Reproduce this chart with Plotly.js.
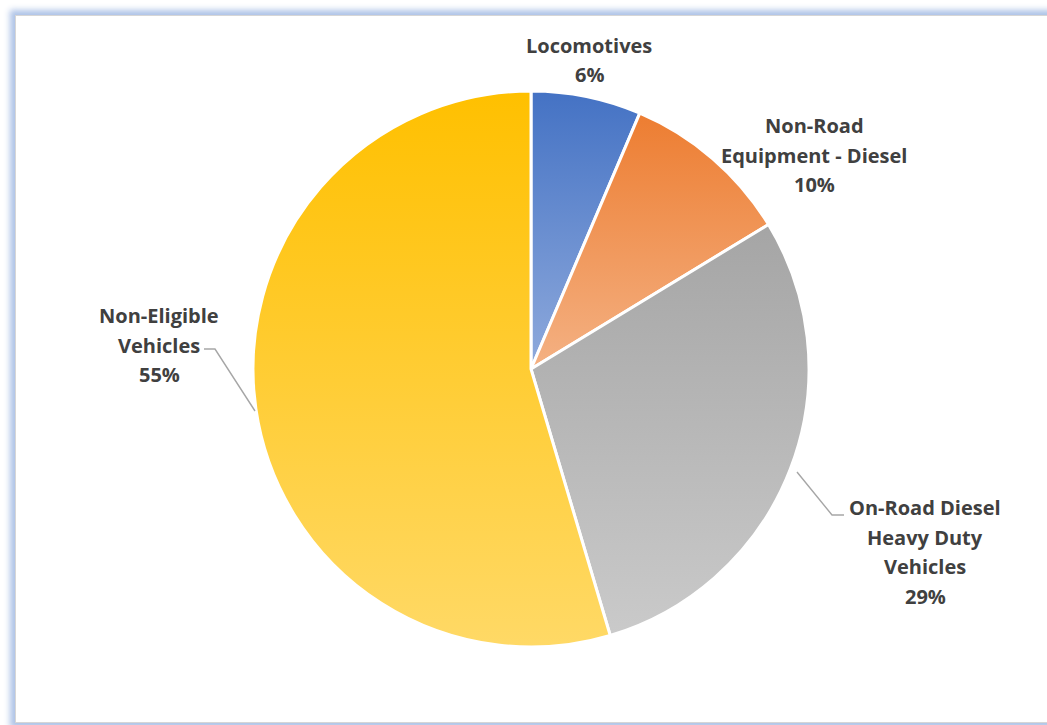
<!DOCTYPE html>
<html>
<head>
<meta charset="utf-8">
<script src="https://cdn.plot.ly/plotly-3.0.1.min.js"></script>
<style>
  html, body { margin: 0; padding: 0; background: #ffffff; overflow: hidden; }
  #wrap { position: relative; width: 1047px; height: 725px; overflow: hidden; background: #ffffff; }
  #frame { position: absolute; left: 15px; top: 15px; width: 1060px; height: 706px;
           border: 1px solid #d6d6d6; background: #ffffff;
           box-shadow: 0 0 6px 5px rgba(170,192,230,0.95); }
  #chart { position: absolute; left: 0; top: 0; width: 1047px; height: 725px; }
</style>
</head>
<body>
<div id="wrap">
  <div id="frame"></div>
  <div id="chart"></div>
</div>
<script>
// ---- data ----
const categories = ['Locomotives', 'Non-Road Equipment - Diesel', 'On-Road Diesel Heavy Duty Vehicles', 'Non-Eligible Vehicles'];
const shares = [6.4, 9.9, 29.1, 54.6];
const labelLines = [
  ['Locomotives'],
  ['Non-Road', 'Equipment - Diesel'],
  ['On-Road Diesel', 'Heavy Duty', 'Vehicles'],
  ['Non-Eligible', 'Vehicles']
];
const colorsTop = ['#4472C4', '#ED7D31', '#A5A5A5', '#FFC000'];
const colorsBottom = ['#8FAADC', '#F4B183', '#CACACA', '#FFD966'];

// ---- layout helpers ----
const W = 1047, H = 725;
const labelCenters = [[589, 60], [814, 155], [925, 552], [159, 345]]; // px
const lineGap = 29.5;
const total = shares.reduce((a, b) => a + b, 0);

const annotations = [];
labelLines.forEach((lines, k) => {
  const all = lines.concat([Math.round(shares[k] / total * 100) + '%']);
  const n = all.length;
  all.forEach((t, i) => {
    annotations.push({
      xref: 'paper', yref: 'paper',
      x: labelCenters[k][0] / W, y: 1 - labelCenters[k][1] / H,
      xanchor: 'center', yanchor: 'middle',
      yshift: ((n - 1) / 2 - i) * lineGap,
      text: '<b>' + t + '</b>', showarrow: false,
      font: { family: '"Open Sans", Lato, sans-serif', size: 20, color: '#404040' }
    });
  });
});

const px = (x) => x / W, py = (y) => 1 - y / H;
const shapes = [
  { type: 'path', xref: 'paper', yref: 'paper',
    path: `M ${px(204)} ${py(349)} L ${px(215)} ${py(349)} L ${px(255)} ${py(411)}`,
    line: { color: '#a6a6a6', width: 1.4 } },
  { type: 'path', xref: 'paper', yref: 'paper',
    path: `M ${px(797)} ${py(472)} L ${px(832)} ${py(515)} L ${px(844)} ${py(515)}`,
    line: { color: '#a6a6a6', width: 1.4 } }
];

const cx = 531, cy = 369, R = 278;
const trace = {
  type: 'pie',
  labels: categories,
  values: shares,
  sort: false,
  direction: 'clockwise',
  rotation: 0,
  textinfo: 'none',
  hoverinfo: 'label+percent',
  marker: { colors: colorsTop, line: { color: '#ffffff', width: 3 } },
  domain: { x: [(cx - R) / W, (cx + R) / W], y: [1 - (cy + R) / H, 1 - (cy - R) / H] },
  showlegend: false
};

const layout = {
  width: W, height: H,
  margin: { l: 0, r: 0, t: 0, b: 0 },
  paper_bgcolor: 'rgba(0,0,0,0)',
  plot_bgcolor: 'rgba(0,0,0,0)',
  showlegend: false,
  annotations: annotations,
  shapes: shapes
};

Plotly.newPlot('chart', [trace], layout, { displayModeBar: false, staticPlot: true }).then(gd => {
  const svg = gd.querySelector('svg.main-svg');
  const NS = 'http://www.w3.org/2000/svg';
  let defs = svg.querySelector('defs');
  if (!defs) { defs = document.createElementNS(NS, 'defs'); svg.insertBefore(defs, svg.firstChild); }
  colorsTop.forEach((c, i) => {
    const g = document.createElementNS(NS, 'linearGradient');
    g.setAttribute('id', 'sliceGrad' + i);
    g.setAttribute('x1', '0'); g.setAttribute('y1', '0');
    g.setAttribute('x2', '0'); g.setAttribute('y2', '1');
    const s1 = document.createElementNS(NS, 'stop');
    s1.setAttribute('offset', '0'); s1.setAttribute('stop-color', c);
    const s2 = document.createElementNS(NS, 'stop');
    s2.setAttribute('offset', '1'); s2.setAttribute('stop-color', colorsBottom[i]);
    g.appendChild(s1); g.appendChild(s2);
    defs.appendChild(g);
  });
  gd.querySelectorAll('g.slice path.surface').forEach((p, i) => {
    p.style.fill = 'url(#sliceGrad' + i + ')';
  });
});
</script>
</body>
</html>
